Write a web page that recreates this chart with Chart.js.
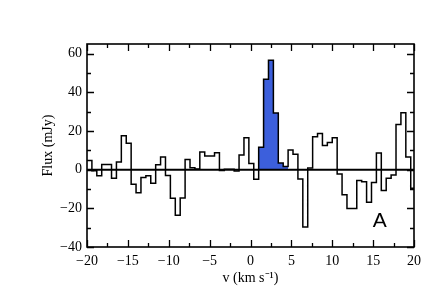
<!DOCTYPE html>
<html>
<head>
<meta charset="utf-8">
<script src="https://cdn.jsdelivr.net/npm/chart.js@4"></script>
<style>
  html, body { margin: 0; padding: 0; background: #fff; }
</style>
</head>
<body>
<canvas id="spec" width="436" height="291"></canvas>
<script>
// channel grid (km/s)
const chanStart = -20;
const chanWidth = 0.6;

// flux per channel (mJy)
const flux = [
   4.8, -0.5, -3.1,  2.7,  2.7, -4.5,  4.0, 17.5, 13.6, -7.5,
 -11.9, -4.0, -3.2, -7.0,  2.6,  6.5, -3.0, -14.8, -23.6, -14.6,
   5.2,  1.0,  0.3,  9.1,  7.1,  7.1,  8.7, -0.4,  0.2,  0.2,
  -0.7,  7.6, 16.5,  3.2, -4.9, 11.6, 46.8, 56.6, 29.3,  3.5,
   1.7, 10.2,  8.0, -4.8, -29.6,  0.8, 17.0, 18.7, 12.5, 14.0,
  16.5, -2.2, -13.0, -20.1, -20.1, -5.6, -6.2, -16.8, -6.6,  8.6,
 -10.8, -4.5, -2.8, 23.3, 29.5,  6.5, -9.6
];

// channels shaded as the line (first, last)
const lineChans = [35, 40];

const xTicks = [-20, -15, -10, -5, 0, 5, 10, 15, 20];
const yTicks = [-40, -20, 0, 20, 40, 60];
const xRange = [-20, 20];
const yRange = [-40, 65];

function edge(i){ return chanStart + i * chanWidth; }

const stepPts = flux.map((f, i) => ({ x: edge(i), y: f }));
stepPts.push({ x: xRange[1], y: flux[flux.length - 1] });

const bluePts = [];
for (let i = lineChans[0]; i <= lineChans[1]; i++) bluePts.push({ x: edge(i), y: flux[i] });
bluePts.push({ x: edge(lineChans[1] + 1), y: flux[lineChans[1]] });

const zeroPts = [{ x: xRange[0], y: 0 }, { x: xRange[1], y: 0 }];

const serif = '"Liberation Serif", "Times New Roman", serif';

const frameTicks = {
  id: 'frameTicks',
  afterDatasetsDraw(chart){
    const { ctx, chartArea: a, scales: { x, y } } = chart;
    ctx.save();
    ctx.strokeStyle = '#000';
    ctx.lineWidth = 1.3;
    ctx.beginPath();
    for (let v = xRange[0]; v <= xRange[1]; v += 2.5){
      const px = Math.round(x.getPixelForValue(v)) + 0.5;
      const len = (v % 5 === 0) ? 7 : 4;
      ctx.moveTo(px, a.bottom); ctx.lineTo(px, a.bottom - len);
      ctx.moveTo(px, a.top); ctx.lineTo(px, a.top + len);
    }
    for (let v = yRange[0]; v <= 60; v += 10){
      const py = Math.round(y.getPixelForValue(v)) + 0.5;
      const len = (v % 20 === 0) ? 7 : 4;
      ctx.moveTo(a.left, py); ctx.lineTo(a.left + len, py);
      ctx.moveTo(a.right, py); ctx.lineTo(a.right - len, py);
    }
    ctx.stroke();
    ctx.lineWidth = 1.6;
    ctx.strokeRect(a.left, a.top, a.right - a.left, a.bottom - a.top);

    ctx.fillStyle = '#000';
    ctx.font = '21px "Liberation Sans", Arial, sans-serif';
    ctx.textAlign = 'center';
    ctx.textBaseline = 'alphabetic';
    ctx.fillText('A', x.getPixelForValue(15.8), y.getPixelForValue(-29.6));
    ctx.restore();
  }
};

new Chart(document.getElementById('spec').getContext('2d'), {
  type: 'line',
  data: {
    datasets: [
      { data: stepPts, borderColor: '#000', borderWidth: 1.5, stepped: 'before', pointRadius: 0, fill: false },
      { data: zeroPts, borderColor: '#000', borderWidth: 2, pointRadius: 0, fill: false },
      { data: bluePts, borderWidth: 0, borderColor: 'rgba(0,0,0,0)', backgroundColor: 'rgb(60,95,220)', stepped: 'before', pointRadius: 0, fill: 'origin' }
    ]
  },
  options: {
    responsive: false,
    devicePixelRatio: 1,
    animation: false,
    layout: { padding: { left: 0, right: 22, top: 44, bottom: 0 } },
    plugins: { legend: { display: false }, tooltip: { enabled: false } },
    scales: {
      x: {
        type: 'linear', min: xRange[0], max: xRange[1],
        grid: { display: false, drawTicks: false },
        border: { display: false },
        afterBuildTicks: s => { s.ticks = xTicks.map(v => ({ value: v })); },
        afterFit: s => { s.height = 44; },
        ticks: {
          padding: 6, color: '#000', font: { family: serif, size: 14 },
          maxRotation: 0, autoSkip: false,
          callback: v => String(v).replace('-', '\u2212')
        },
        title: { display: true, text: 'v (km s\u207B\u00B9)', color: '#000', font: { family: serif, size: 14 }, padding: { top: 0, bottom: 4 } }
      },
      y: {
        type: 'linear', min: yRange[0], max: yRange[1],
        grid: { display: false, drawTicks: false },
        border: { display: false },
        afterBuildTicks: s => { s.ticks = yTicks.map(v => ({ value: v })); },
        afterFit: s => { s.width = 87; },
        ticks: {
          padding: 5, color: '#000', font: { family: serif, size: 14 },
          autoSkip: false,
          callback: v => String(v).replace('-', '\u2212')
        },
        title: { display: true, text: 'Flux (mJy)', color: '#000', font: { family: serif, size: 14 }, padding: { top: 40, bottom: 0 } }
      }
    }
  },
  plugins: [frameTicks]
});
</script>
</body>
</html>
